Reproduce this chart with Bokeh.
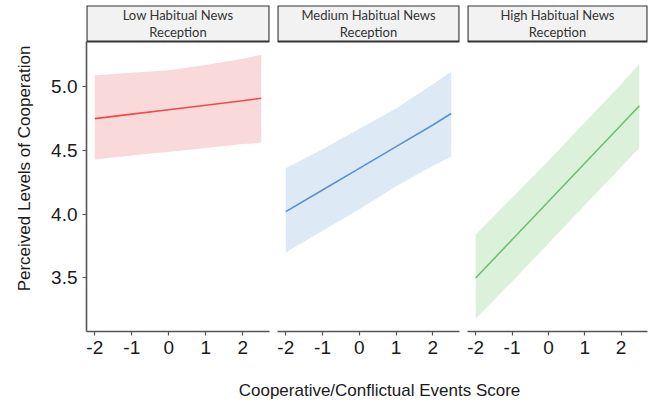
from bokeh.plotting import figure
from bokeh.layouts import row, column
from bokeh.models import ColumnDataSource, Range1d, FixedTicker, NumeralTickFormatter
from bokeh.core.properties import value
from bokeh.embed import file_html
from bokeh.resources import INLINE

# ---- data ----
x_vals = [-2, -1, 0, 1, 2, 2.5]
panel_line1 = ["Low Habitual News", "Medium Habitual News", "High Habitual News"]
panel_line2 = ["Reception", "Reception", "Reception"]
low_fit = [4.75, 4.785, 4.82, 4.855, 4.89, 4.91]
low_upper = [5.09, 5.11, 5.13, 5.17, 5.22, 5.25]
low_lower = [4.43, 4.46, 4.49, 4.52, 4.55, 4.56]
med_fit = [4.02, 4.19, 4.36, 4.53, 4.70, 4.79]
med_upper = [4.36, 4.51, 4.67, 4.83, 5.02, 5.12]
med_lower = [3.70, 3.87, 4.04, 4.22, 4.38, 4.45]
high_fit = [3.50, 3.80, 4.10, 4.40, 4.70, 4.85]
high_upper = [3.84, 4.13, 4.42, 4.72, 5.02, 5.18]
high_lower = [3.18, 3.47, 3.77, 4.07, 4.37, 4.52]
x_ticks = [-2, -1, 0, 1, 2]
x_tick_labels = ["-2", "-1", "0", "1", "2"]
y_ticks = [3.5, 4.0, 4.5, 5.0]
x_title = "Cooperative/Conflictual Events Score"
y_title = "Perceived Levels of Cooperation"

series = [
    (low_fit, low_upper, low_lower, "#ee4a4a", "#f9d9da"),
    (med_fit, med_upper, med_lower, "#5b92c8", "#dde9f4"),
    (high_fit, high_upper, high_lower, "#6cc070", "#dcf1da"),
]

x_lo, x_hi = -2.225, 2.725
y_lo, y_hi = 3.08, 5.355
STRIP_PX = 36
PLOT_PX = 290
FRAME_H = STRIP_PX + PLOT_PX
per_px = (y_hi - y_lo) / PLOT_PX
y_top = y_hi + STRIP_PX * per_px
strip_mid = (y_hi + y_top) / 2

AX_COL = "#555555"
TXT_COL = "#1a1a1a"

frame_w = [183, 182, 180]
b_left = [86, 4, 4]
b_right = [4, 4, 1]

figs = []
for i, (fit, up, lo, lc, fc) in enumerate(series):
    p = figure(frame_width=frame_w[i], frame_height=FRAME_H, output_backend="svg",
               toolbar_location=None, x_range=Range1d(x_lo, x_hi),
               y_range=Range1d(y_lo, y_top),
               min_border_top=5, min_border_bottom=40,
               min_border_left=b_left[i], min_border_right=b_right[i])
    p.outline_line_color = None
    p.grid.visible = False
    p.background_fill_color = "white"
    p.border_fill_color = "white"

    src = ColumnDataSource(dict(x=x_vals, fit=fit, up=up, lo=lo))
    p.varea(x="x", y1="lo", y2="up", source=src, fill_color=fc, fill_alpha=1.0)
    p.line(x="x", y="fit", source=src, line_color=lc, line_width=1.6)

    # strip
    p.quad(left=[x_lo], right=[x_hi], bottom=[y_hi], top=[y_top],
           fill_color="#f2f2f2", line_color="#333333", line_width=2.2)
    tsrc = ColumnDataSource(dict(
        x=[(x_lo + x_hi) / 2] * 2,
        y=[strip_mid + 8.5 * per_px, strip_mid - 8.5 * per_px],
        t=[panel_line1[i], panel_line2[i]]))
    p.text(x="x", y="y", text="t", source=tsrc, text_align="center",
           text_baseline="middle", text_font=value("Lato"), text_font_size="13px",
           text_color="#333333")

    # x axis
    xa = p.xaxis[0]
    xa.ticker = FixedTicker(ticks=x_ticks)
    xa.major_label_overrides = {t: s for t, s in zip(x_ticks, x_tick_labels)}
    xa.bounds = (x_lo, x_hi)
    xa.axis_line_color = AX_COL
    xa.axis_line_width = 1.6
    xa.major_tick_line_color = AX_COL
    xa.major_tick_line_width = 1.2
    xa.major_tick_out = 4
    xa.major_tick_in = 0
    xa.minor_tick_line_color = None
    xa.major_label_text_font = "Liberation Sans"
    xa.major_label_text_font_size = "19px"
    xa.major_label_text_color = TXT_COL
    xa.major_label_standoff = 5

    ya = p.yaxis[0]
    if i == 0:
        ya.ticker = FixedTicker(ticks=y_ticks)
        ya.formatter = NumeralTickFormatter(format="0.0")
        ya.bounds = (y_lo, y_hi)
        ya.axis_line_color = AX_COL
        ya.axis_line_width = 1.6
        ya.major_tick_line_color = AX_COL
        ya.major_tick_line_width = 1.2
        ya.major_tick_out = 4
        ya.major_tick_in = 0
        ya.minor_tick_line_color = None
        ya.major_label_text_font = "Liberation Sans"
        ya.major_label_text_font_size = "19px"
        ya.major_label_text_color = TXT_COL
        ya.major_label_standoff = 5
        ya.axis_label = y_title
        ya.axis_label_text_font = "Liberation Sans"
        ya.axis_label_text_font_size = "17px"
        ya.axis_label_text_font_style = "normal"
        ya.axis_label_text_color = TXT_COL
        ya.axis_label_standoff = 14
    else:
        ya.visible = False
    figs.append(p)

# x-axis title as its own strip beneath the panels
total_w = sum(frame_w) + sum(b_left) + sum(b_right)
tf = figure(width=total_w, height=31, output_backend="svg", toolbar_location=None,
            x_range=Range1d(0, total_w), y_range=Range1d(0, 31),
            min_border=0)
tf.axis.visible = False
tf.grid.visible = False
tf.outline_line_color = None
tsrc2 = ColumnDataSource(dict(x=[379], y=[12], t=[x_title]))
tf.text(x="x", y="y", text="t", source=tsrc2, text_align="center",
        text_baseline="middle", text_font=value("Liberation Sans"),
        text_font_size="17px", text_color=TXT_COL)

layout = column(row(*figs), tf, spacing=0)
open("out.html", "w").write(file_html(layout, INLINE))
